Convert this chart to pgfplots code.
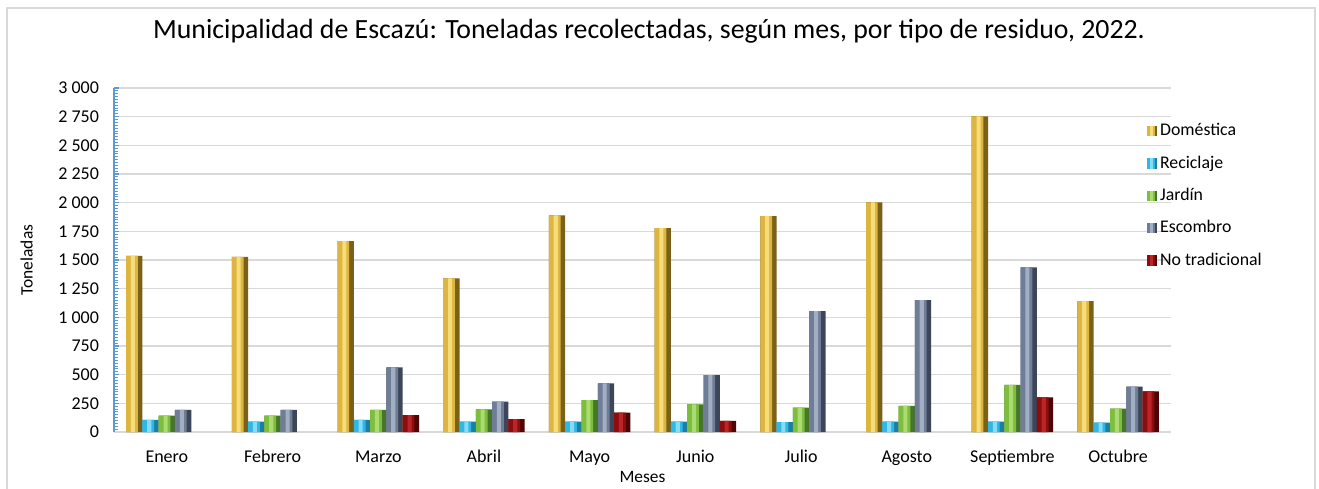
\documentclass[border=0pt]{standalone}
\usepackage{fontspec}
\setmainfont{Carlito}
\usepackage{pgfplots}
\usepackage{pgfplotstable}
\pgfplotsset{compat=1.18}
% base, dark side and highlight of each residue type
\definecolor{dom}{HTML}{DDB540}\definecolor{domd}{HTML}{7A6118}\definecolor{domh}{HTML}{F6DD7C}
\definecolor{rec}{HTML}{2FB8E6}\definecolor{recd}{HTML}{1B7EA3}\definecolor{rech}{HTML}{86DBF6}
\definecolor{jar}{HTML}{7DBE3C}\definecolor{jard}{HTML}{46762A}\definecolor{jarh}{HTML}{ACDB74}
\definecolor{esc}{HTML}{6F7E96}\definecolor{escd}{HTML}{3C4658}\definecolor{esch}{HTML}{A2AEC2}
\definecolor{ntr}{HTML}{8E0C0C}\definecolor{ntrd}{HTML}{4D0505}\definecolor{ntrh}{HTML}{B8262C}
\definecolor{gridc}{HTML}{D9D9D9}
\definecolor{yaxc}{HTML}{5B9BD5}

\pgfplotstableread{
x dom rec jar esc ntr
0 1535 105 142 192 nan
1 1528 90 142 192 nan
2 1665 105 192 564 148
3 1340 90 198 264 113
4 1890 90 279 424 169
5 1778 90 240 497 96
6 1882 86 212 1055 nan
7 2003 90 227 1151 nan
8 2752 90 410 1436 302
9 1142 81 203 395 355
}\datos

% one bevelled bar series: column, colour, shift (pt)
\newcommand\barras[3]{%
\addplot[ybar,bar width=8.15pt,bar shift={#3pt},fill=#2d,draw=none,forget plot] table[x=x,y=#1]{\datos};
\addplot[ybar,bar width=5.87pt,bar shift={#3pt-1.14pt},fill=#2,draw=none,forget plot] table[x=x,y=#1]{\datos};
\addplot[ybar,bar width=2.04pt,bar shift={#3pt-0.65pt},fill=#2h,draw=none,forget plot] table[x=x,y=#1]{\datos};
}
\pgfplotsset{leg/.style={legend image code/.code={%
  \fill[#1d] (0pt,-2.3pt) rectangle (4.6pt,2.3pt);
  \fill[#1] (0pt,-2.3pt) rectangle (3.2pt,2.3pt);
  \fill[#1h] (1.2pt,-2.3pt) rectangle (2.4pt,2.3pt);}}}

\begin{document}
\begin{tikzpicture}
\begin{axis}[scale only axis,width=528.5pt,height=172pt,
  xmin=-0.5,xmax=9.5,ymin=0,ymax=3000,
  xtick={0,...,9},
  xticklabels={Enero,Febrero,Marzo,Abril,Mayo,Junio,Julio,Agosto,Septiembre,Octubre},
  ytick={0,250,...,3000},minor y tick num=9,
  axis lines*=left,
  x axis line style={gridc,line width=0.8pt},
  y axis line style={yaxc,line width=0.9pt},
  xtick style={draw=none},
  ytick style={yaxc,line width=0.6pt},
  minor y tick style={yaxc,line width=0.5pt},
  tick align=inside,major tick length=2.5pt,minor tick length=2pt,
  ymajorgrids,major grid style={gridc,line width=0.8pt},
  /pgf/number format/assume math mode=true,
  /pgf/number format/1000 sep={\ },
  tick label style={font=\fontsize{9}{11}\selectfont},
  yticklabel style={xshift=-4pt},
  xticklabel style={yshift=-5pt,text height=6.5pt,text depth=2pt},
  xlabel={Meses},ylabel={Toneladas},
  xlabel style={font=\fontsize{8.7}{10}\selectfont,inner sep=1pt,yshift=2pt},
  ylabel style={font=\fontsize{8.7}{10}\selectfont,yshift=6pt},
  legend style={at={(0.977,0.91)},anchor=north west,draw=none,fill=none,
    font=\fontsize{8.9}{10}\selectfont,row sep=4.5pt,inner sep=0pt,
    nodes={inner xsep=1.5pt}},
  legend cell align=left,
]
\barras{dom}{dom}{-16.3}
\barras{rec}{rec}{-8.15}
\barras{jar}{jar}{0}
\barras{esc}{esc}{8.15}
\barras{ntr}{ntr}{16.3}
\addlegendimage{leg=dom}\addlegendentry{Doméstica}
\addlegendimage{leg=rec}\addlegendentry{Reciclaje}
\addlegendimage{leg=jar}\addlegendentry{Jardín}
\addlegendimage{leg=esc}\addlegendentry{Escombro}
\addlegendimage{leg=ntr}\addlegendentry{No tradicional}
\end{axis}
\draw[gridc,line width=0.7pt] (-53.5pt,-30pt) -- (-53.5pt,212pt) -- (600.5pt,212pt) -- (600.5pt,-30pt);
\node[font=\fontsize{13.9}{16}\selectfont] at (267.5pt,200.5pt) {Municipalidad de Escazú: Toneladas recolectadas, según mes, por tipo de residuo, 2022.};
\pgfresetboundingbox
\path[use as bounding box] (-57pt,-28pt) rectangle (602.5pt,216pt);
\end{tikzpicture}
\end{document}
